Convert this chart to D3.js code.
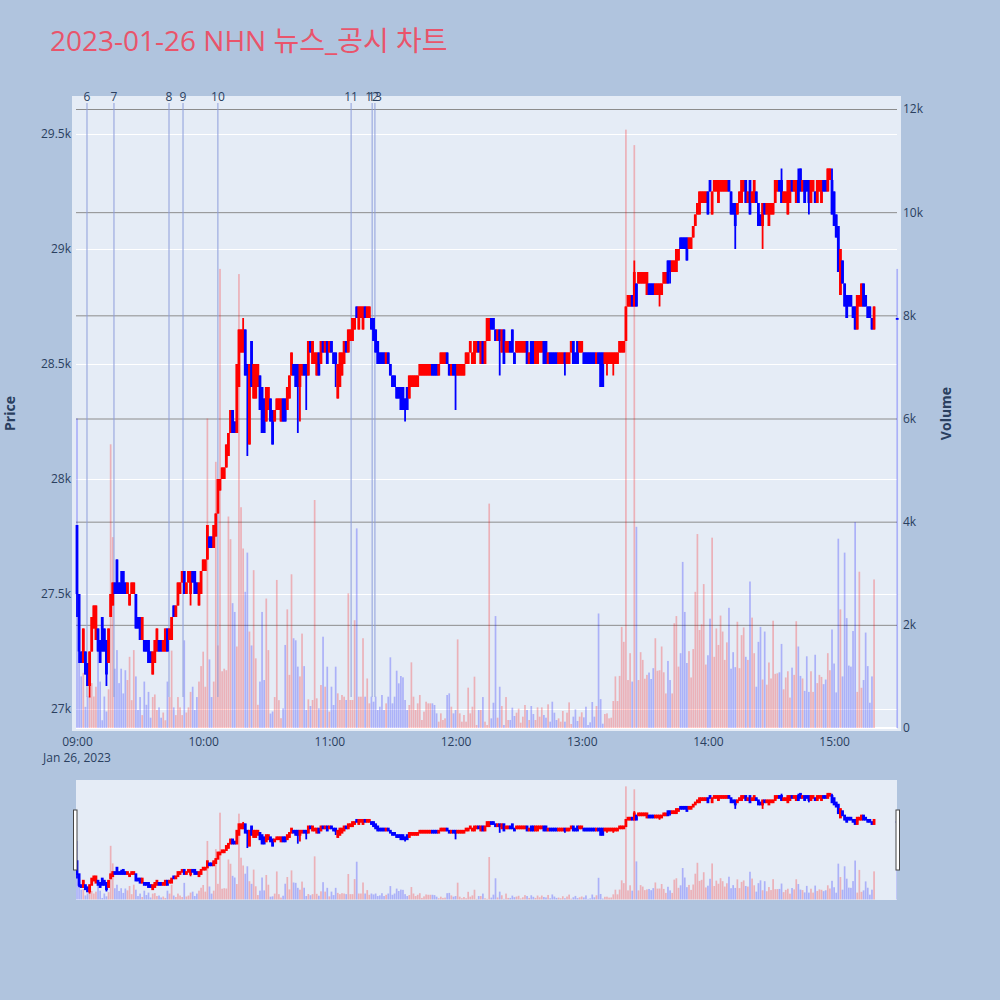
<!DOCTYPE html>
<html><head><meta charset="utf-8">
<script src="https://d3js.org/d3.v7.min.js"></script>
<style>
html,body{margin:0;padding:0;background:#B0C4DE;}
svg{display:block;}
</style></head><body>
<svg id="chart" width="1000" height="1000"></svg>
<script>
// ---------------- data ----------------
const chartTitle = "2023-01-26 NHN 뉴스_공시 차트";
const tradeDate = "2023-01-26";
const sessionStart = "09:00";      // first 1-minute candle, one candle per minute
const auctionTime = "15:30";       // closing auction (last entry of the arrays)

const open = [
27800,27500,27250,27200,27250,27200,27100,27250,27350,27300,
27350,27300,27400,27350,27300,27200,27400,27450,27550,27650,
27550,27550,27600,27550,27500,27450,27500,27500,27500,27400,
27400,27300,27300,27300,27300,27250,27150,27200,27250,27300,
27300,27250,27250,27350,27300,27300,27450,27400,27450,27500,
27550,27600,27500,27550,27500,27600,27600,27550,27450,27500,
27600,27600,27650,27750,27750,27700,27750,27850,27950,28000,
28000,28050,28100,28200,28300,28250,28200,28400,28550,28550,
28650,28500,28150,28600,28350,28350,28400,28450,28400,28350,
28250,28300,28350,28300,28250,28300,28300,28250,28350,28350,
28300,28350,28450,28500,28500,28500,28400,28450,28500,28500,
28450,28600,28500,28500,28450,28550,28500,28600,28550,28600,
28550,28600,28550,28550,28350,28400,28450,28500,28600,28550,
28600,28600,28650,28750,28650,28700,28650,28750,28700,28700,
28700,28700,28650,28600,28550,28550,28550,28500,28550,28500,
28450,28450,28400,28400,28400,28400,28350,28400,28350,28400,
28400,28400,28400,28450,28450,28450,28450,28450,28450,28500,
28500,28500,28450,28500,28500,28500,28550,28500,28450,28500,
28500,28450,28450,28450,28450,28500,28500,28550,28500,28500,
28550,28600,28500,28600,28500,28600,28600,28700,28700,28650,
28600,28650,28550,28650,28550,28550,28600,28650,28550,28550,
28550,28550,28550,28550,28600,28500,28600,28600,28500,28500,
28550,28550,28600,28600,28500,28550,28550,28550,28550,28500,
28500,28500,28550,28500,28500,28550,28600,28550,28600,28550,
28550,28550,28550,28550,28550,28550,28550,28500,28550,28550,
28550,28500,28500,28500,28500,28500,28500,28500,28550,28550,
28550,28600,28750,28750,28800,28750,28850,28850,28850,28850,
28850,28800,28850,28850,28850,28800,28800,28800,28800,28850,
28850,28950,28950,28900,28900,28900,28950,29050,29050,29050,
29050,29000,29000,29050,29100,29150,29150,29200,29200,29200,
29250,29300,29150,29250,29250,29200,29250,29250,29250,29250,
29300,29250,29200,29200,29150,29200,29200,29250,29300,29200,
29300,29200,29200,29250,29200,29150,29100,29200,29150,29100,
29150,29150,29200,29250,29300,29300,29200,29200,29150,29200,
29300,29250,29200,29300,29350,29250,29300,29300,29300,29200,
29250,29250,29200,29250,29200,29300,29300,29250,29300,29300,
29250,29150,29100,28800,28950,28850,28800,28800,28800,28750,
28750,28650,28750,28750,28850,28800,28750,28750,28700,28650,
28700];
const high = [
27800,27500,27250,27350,27250,27200,27250,27400,27450,27450,
27350,27300,27400,27350,27300,27350,27500,27550,27550,27650,
27550,27600,27600,27550,27550,27500,27550,27550,27500,27400,
27400,27400,27300,27300,27300,27250,27250,27300,27350,27300,
27300,27300,27350,27350,27350,27400,27450,27450,27550,27550,
27600,27600,27550,27600,27600,27600,27600,27550,27550,27600,
27650,27650,27800,27750,27750,27800,27850,28000,28000,28050,
28050,28150,28200,28300,28300,28250,28500,28650,28650,28700,
28650,28500,28500,28600,28500,28500,28500,28450,28400,28350,
28400,28400,28350,28300,28300,28350,28350,28350,28350,28350,
28400,28450,28550,28500,28500,28500,28500,28500,28500,28500,
28600,28600,28600,28550,28550,28550,28600,28600,28600,28600,
28600,28600,28550,28550,28500,28550,28550,28600,28600,28650,
28650,28700,28700,28750,28750,28750,28750,28750,28750,28750,
28700,28700,28650,28600,28550,28550,28550,28550,28550,28500,
28450,28450,28400,28400,28400,28400,28350,28400,28450,28450,
28450,28450,28450,28500,28500,28500,28500,28500,28500,28500,
28500,28500,28500,28550,28550,28550,28550,28500,28500,28500,
28500,28500,28500,28500,28500,28550,28550,28600,28550,28600,
28600,28600,28600,28600,28600,28700,28700,28700,28700,28650,
28650,28650,28650,28650,28600,28600,28600,28650,28550,28600,
28600,28600,28600,28600,28600,28550,28600,28600,28600,28600,
28600,28600,28600,28600,28550,28550,28550,28550,28550,28550,
28550,28550,28550,28550,28550,28600,28600,28550,28600,28600,
28600,28550,28550,28550,28550,28550,28550,28550,28550,28550,
28550,28550,28550,28550,28550,28550,28550,28550,28600,28600,
28600,28750,28800,28800,28800,28950,28850,28900,28900,28900,
28900,28900,28850,28850,28850,28850,28850,28850,28850,28900,
28900,28950,28950,28950,28950,29000,29000,29050,29050,29050,
29050,29050,29050,29100,29150,29200,29250,29250,29250,29250,
29250,29300,29250,29300,29300,29300,29300,29300,29300,29300,
29300,29250,29200,29200,29200,29250,29300,29300,29300,29250,
29300,29250,29300,29250,29200,29150,29200,29200,29200,29200,
29200,29200,29300,29300,29300,29350,29250,29250,29300,29300,
29300,29300,29300,29350,29350,29300,29300,29300,29300,29300,
29300,29250,29300,29300,29300,29300,29300,29350,29350,29350,
29250,29150,29100,29000,28950,28850,28800,28800,28800,28750,
28750,28800,28800,28850,28850,28800,28750,28750,28700,28750,
28700];
const low = [
27400,27200,27200,27200,27150,27100,27050,27250,27350,27300,
27250,27200,27250,27250,27100,27200,27400,27450,27500,27500,
27500,27500,27500,27500,27500,27450,27500,27500,27350,27350,
27300,27300,27250,27250,27200,27200,27150,27200,27250,27250,
27250,27250,27250,27250,27300,27300,27400,27400,27450,27500,
27550,27500,27500,27550,27450,27550,27500,27500,27450,27500,
27600,27600,27650,27700,27700,27700,27750,27850,27950,28000,
28000,28050,28100,28200,28200,28200,28200,28400,28550,28550,
28450,28100,28150,28400,28350,28350,28400,28300,28200,28200,
28250,28300,28250,28150,28250,28300,28300,28250,28250,28250,
28300,28350,28450,28450,28400,28200,28250,28450,28450,28300,
28450,28550,28500,28500,28450,28450,28500,28550,28550,28500,
28550,28550,28500,28400,28350,28400,28450,28500,28550,28550,
28600,28600,28650,28700,28650,28700,28650,28700,28700,28700,
28650,28600,28550,28500,28500,28500,28500,28500,28500,28450,
28400,28400,28350,28350,28300,28300,28250,28300,28350,28400,
28400,28400,28400,28450,28450,28450,28450,28450,28450,28450,
28450,28450,28450,28500,28500,28500,28500,28450,28450,28450,
28300,28450,28450,28450,28450,28500,28500,28550,28500,28500,
28550,28550,28500,28500,28500,28600,28600,28650,28650,28600,
28600,28450,28550,28500,28550,28550,28550,28550,28500,28550,
28550,28550,28550,28550,28500,28500,28500,28500,28500,28500,
28550,28550,28500,28500,28500,28500,28500,28500,28500,28500,
28500,28500,28450,28500,28500,28550,28500,28500,28500,28550,
28550,28500,28500,28500,28500,28500,28500,28500,28500,28400,
28400,28500,28450,28500,28500,28450,28500,28500,28550,28550,
28550,28600,28750,28750,28750,28750,28750,28850,28850,28850,
28850,28800,28800,28800,28800,28800,28800,28750,28800,28850,
28850,28850,28850,28900,28900,28900,28950,29000,29000,29000,
28950,29000,29000,29050,29100,29150,29150,29200,29200,29200,
29150,29250,29150,29250,29250,29200,29250,29250,29250,29250,
29250,29150,29150,29000,29150,29200,29200,29250,29200,29200,
29150,29200,29200,29200,29100,29100,29000,29150,29150,29100,
29150,29150,29200,29250,29250,29200,29200,29200,29150,29200,
29250,29250,29200,29200,29250,29250,29200,29250,29150,29200,
29250,29200,29200,29250,29200,29250,29250,29250,29300,29150,
29100,29050,28900,28800,28850,28750,28700,28750,28750,28700,
28650,28650,28750,28750,28750,28750,28700,28700,28650,28650,
28700];
const close = [
27500,27250,27200,27350,27150,27100,27250,27400,27450,27450,
27250,27200,27250,27250,27150,27350,27500,27550,27500,27500,
27500,27500,27500,27500,27550,27500,27550,27550,27350,27350,
27300,27400,27250,27250,27200,27200,27250,27300,27350,27250,
27250,27300,27350,27250,27350,27400,27400,27450,27550,27550,
27600,27500,27550,27600,27600,27550,27500,27500,27550,27600,
27650,27650,27800,27700,27700,27800,27850,28000,28000,28050,
28050,28150,28200,28300,28200,28200,28500,28650,28650,28650,
28450,28450,28500,28400,28500,28500,28500,28300,28200,28200,
28400,28400,28250,28150,28300,28350,28350,28350,28250,28250,
28400,28450,28550,28450,28400,28400,28500,28500,28450,28450,
28600,28550,28600,28550,28550,28450,28600,28550,28600,28500,
28600,28550,28500,28500,28500,28550,28550,28600,28550,28650,
28650,28700,28700,28700,28750,28750,28750,28700,28750,28750,
28650,28600,28550,28500,28500,28500,28500,28550,28500,28450,
28400,28400,28350,28350,28300,28300,28300,28300,28450,28450,
28450,28450,28450,28500,28500,28500,28500,28500,28500,28450,
28450,28450,28500,28550,28550,28550,28500,28450,28500,28450,
28450,28500,28500,28500,28500,28550,28550,28600,28550,28600,
28600,28550,28600,28500,28600,28700,28700,28650,28650,28600,
28650,28600,28650,28500,28600,28600,28550,28550,28500,28600,
28600,28600,28600,28600,28500,28550,28500,28500,28600,28600,
28600,28600,28500,28500,28550,28500,28500,28500,28500,28550,
28550,28550,28500,28550,28550,28600,28500,28500,28500,28600,
28600,28500,28500,28500,28500,28500,28500,28550,28500,28400,
28400,28550,28550,28550,28550,28550,28550,28550,28600,28600,
28600,28750,28800,28800,28750,28900,28750,28900,28900,28900,
28900,28900,28800,28800,28800,28850,28850,28850,28850,28900,
28900,28850,28900,28950,28950,29000,29000,29000,29000,29000,
28950,29050,29050,29100,29150,29200,29250,29250,29250,29250,
29150,29250,29250,29300,29300,29300,29300,29300,29300,29300,
29250,29150,29150,29100,29200,29250,29300,29300,29200,29250,
29150,29250,29300,29200,29100,29100,29200,29150,29200,29200,
29200,29200,29300,29300,29250,29200,29250,29250,29300,29300,
29250,29300,29300,29200,29250,29300,29200,29250,29200,29300,
29300,29200,29300,29300,29300,29250,29250,29350,29350,29150,
29100,29050,28900,29000,28850,28750,28700,28750,28750,28700,
28650,28800,28800,28850,28750,28750,28700,28700,28650,28750,
28700];
const volume = [
6000,1540,1000,1070,410,610,610,870,610,800,
1540,900,150,610,320,750,5500,3700,1150,1510,
870,1150,670,1120,930,1380,540,1510,1000,350,
600,250,900,450,700,200,600,650,350,400,
200,300,150,900,600,1500,400,250,600,400,
250,1700,300,400,700,800,350,600,900,1200,
1480,800,6000,1330,600,900,5160,1600,8900,1100,
1150,1120,4100,3660,2420,2250,1580,8800,4280,3480,
2640,3400,1870,1600,3060,1350,450,900,2250,930,
2510,1510,280,320,600,2870,540,190,380,1610,
2300,1030,2980,1740,1700,1190,1000,1830,1200,350,
556,426,543,4420,575,381,833,1770,801,1189,
317,801,446,1189,672,543,640,607,543,2610,
543,543,2090,3870,607,607,1740,607,960,478,
607,510,607,349,413,640,349,478,607,1370,
478,607,1111,866,1008,982,543,349,446,1273,
607,349,478,640,155,317,510,478,478,478,
446,284,123,284,155,187,640,672,413,284,
349,1718,284,123,252,123,782,284,413,995,
58,349,349,600,123,58,4350,187,490,2170,
200,800,426,58,600,155,155,394,233,297,
375,103,220,446,349,155,426,271,155,400,
220,400,252,200,459,123,510,297,155,187,
123,330,123,297,497,78,220,362,136,220,
304,207,413,58,110,504,220,426,2220,560,
84,271,284,187,200,523,1000,523,1010,1960,
1670,11600,930,1450,900,11300,3900,930,1470,1320,
955,1030,1075,950,1160,1740,1110,1120,1580,1080,
670,1300,930,670,2030,2170,1190,1450,3220,2250,
1260,1490,980,1530,2640,3760,1900,2010,2790,1230,
1410,2120,3690,1380,1930,1610,2180,1870,1320,1660,
2330,1150,1470,1180,2060,1160,1800,1950,1380,1320,
2840,2140,1450,800,1670,1960,940,1870,840,1270,
960,2080,1050,1060,1080,1630,750,980,1100,590,
1170,1030,2070,1580,1010,960,720,1390,700,1100,
700,1420,870,1030,990,850,940,1450,1120,1910,
1250,690,3670,2300,1000,3400,2130,1210,1190,1880,
3990,700,3030,780,930,1850,1200,490,1000,2880,
8900];

const newsTimes  = ["09:04:45","09:17:35","09:43:45","09:50:25","10:07:00","11:10:20","11:20:20","11:21:40"];
const newsLabels = ["6","7","8","9","10","11","12","13"];

const priceTicks = [27000,27500,28000,28500,29000,29500];
const priceTickLabels = ["27k","27.5k","28k","28.5k","29k","29.5k"];
const volumeTicks = [0,2000,4000,6000,8000,10000,12000];
const volumeTickLabels = ["0","2k","4k","6k","8k","10k","12k"];
const timeTicks = ["09:00","10:00","11:00","12:00","13:00","14:00","15:00"];
const dateLabel = "Jan 26, 2023";

// ---------------- layout ----------------
const FONT = "'Open Sans','Noto Sans CJK KR',sans-serif";
const TXT = "#2a3f5f";
const PL = 72, PR = 901, PT = 96, PB = 731;   // main plot box
const GL = 76, GR = 897;                      // grid extent
const SL = 76, SR = 897, ST = 780, SB = 900;  // range slider box
const UP = "#ff0000", DOWN = "#0000ff";

const parseT = d3.timeParse("%Y-%m-%d %H:%M:%S");
const tAt = s => parseT(tradeDate + " " + (s.length === 5 ? s + ":00" : s));
const t0 = tAt(sessionStart), tEnd = tAt(auctionTime);
const n = open.length;
const times = open.map((_, i) => i < n - 1 ? d3.timeMinute.offset(t0, i) : tEnd);
const data = open.map((o, i) => ({t: times[i], o, h: high[i], l: low[i], c: close[i], v: volume[i], up: close[i] > o}));

const x = d3.scaleTime().domain([t0, tEnd]).range([77, 897.2]);
const yP = d3.scaleLinear().domain([27000, 29500]).range([709, 134]);
const yV = d3.scaleLinear().domain([0, 12000]).range([728, 109]);
const yPs = d3.scaleLinear().domain([yP.invert(PB), yP.invert(PT)]).range([SB, ST]);
const yVs = d3.scaleLinear().domain([yV.invert(PB), yV.invert(PT)]).range([SB, ST]);

const svg = d3.select("#chart");
svg.append("rect").attr("width", 1000).attr("height", 1000).attr("fill", "#B0C4DE");

svg.append("text").attr("x", 50).attr("y", 51)
  .attr("font-family", FONT).attr("font-size", 28).attr("fill", "#E9546B")
  .text(chartTitle);

svg.append("rect").attr("x", PL).attr("y", PT).attr("width", PR - PL).attr("height", PB - PT).attr("fill", "#E5ECF6");

// price grid (white)
svg.append("g").attr("transform", `translate(${GL},0)`)
  .call(d3.axisLeft(yP).tickValues(priceTicks).tickSize(-(GR - GL)).tickFormat(""))
  .call(g => g.select(".domain").remove())
  .call(g => g.selectAll("line").attr("stroke", "#ffffff").attr("stroke-width", 1));

// volume grid (gray)
svg.append("g").attr("transform", `translate(${GL},0)`)
  .call(d3.axisLeft(yV).tickValues(volumeTicks.slice(1)).tickSize(-(GR - GL)).tickFormat(""))
  .call(g => g.select(".domain").remove())
  .call(g => g.selectAll("line").attr("stroke", "#8c8c8c").attr("stroke-width", 1));
// zero line
svg.append("line").attr("x1", GL).attr("x2", GR).attr("y1", yV(0)).attr("y2", yV(0))
  .attr("stroke", "#ffffff").attr("stroke-width", 2);

function drawVolume(g, ys) {
  g.selectAll("rect.vb").data(data).join("rect").attr("class", "vb")
    .attr("x", d => x(d.t) - 0.85).attr("width", 1.7)
    .attr("y", d => ys(d.v)).attr("height", d => ys(0) - ys(d.v))
    .attr("fill", d => d.up ? "rgba(255,0,0,0.25)" : "rgba(0,0,255,0.25)");
}
function drawCandles(g, ys, extra) {
  const c = g.selectAll("g.cd").data(data).join("g").attr("class", "cd");
  c.append("line")
    .attr("x1", d => x(d.t)).attr("x2", d => x(d.t))
    .attr("y1", d => ys(d.h)).attr("y2", d => ys(d.l))
    .attr("stroke", d => d.up ? UP : DOWN).attr("stroke-width", 1.8);
  c.append("rect")
    .attr("x", d => x(d.t) - 1.4).attr("width", 2.8)
    .attr("y", d => Math.min(ys(d.o), ys(d.c)) - extra / 2)
    .attr("height", d => Math.max(Math.abs(ys(d.o) - ys(d.c)) + extra, 1.8))
    .attr("fill", d => d.up ? UP : DOWN);
}

// main plot contents
const main = svg.append("g");
drawVolume(main.append("g"), yV);

// news lines
const news = newsTimes.map((t, i) => ({t: tAt(t), label: newsLabels[i]}));
main.append("g").selectAll("line").data(news).join("line")
  .attr("x1", d => x(d.t)).attr("x2", d => x(d.t)).attr("y1", 103).attr("y2", 697)
  .attr("stroke", "#8e9edb").attr("stroke-width", 1);

drawCandles(main.append("g"), yP, 0);

main.append("g").selectAll("text").data(news).join("text")
  .attr("x", d => x(d.t)).attr("y", 101).attr("text-anchor", "middle")
  .attr("font-family", FONT).attr("font-size", 12).attr("fill", TXT)
  .text(d => d.label);

// axes
const styleAxis = g => {
  g.select(".domain").remove();
  g.attr("font-family", FONT).attr("font-size", 12);
  g.selectAll("text").attr("fill", TXT);
};
svg.append("g").attr("transform", `translate(${PL},0)`)
  .call(d3.axisLeft(yP).tickValues(priceTicks).tickFormat((d, i) => priceTickLabels[i]).tickSize(0).tickPadding(1))
  .call(styleAxis);
svg.append("g").attr("transform", `translate(${PR},0)`)
  .call(d3.axisRight(yV).tickValues(volumeTicks).tickFormat((d, i) => volumeTickLabels[i]).tickSize(0).tickPadding(2))
  .call(styleAxis);
svg.append("g").attr("transform", `translate(0,${PB})`)
  .call(d3.axisBottom(x).tickValues(timeTicks.map(tAt)).tickFormat((d, i) => timeTicks[i]).tickSize(0).tickPadding(6))
  .call(styleAxis);
svg.append("text").attr("x", x(t0)).attr("y", 762).attr("text-anchor", "middle")
  .attr("font-family", FONT).attr("font-size", 12).attr("fill", TXT).text(dateLabel);

svg.append("text").attr("transform", `translate(15,${(PT + PB) / 2}) rotate(-90)`)
  .attr("text-anchor", "middle").attr("font-family", FONT).attr("font-size", 14)
  .attr("font-weight", "bold").attr("fill", TXT).text("Price");
svg.append("text").attr("transform", `translate(951,${(PT + PB) / 2}) rotate(-90)`)
  .attr("text-anchor", "middle").attr("font-family", FONT).attr("font-size", 14)
  .attr("font-weight", "bold").attr("fill", TXT).text("Volume");

// range slider
svg.append("defs").append("clipPath").attr("id", "sclip")
  .append("rect").attr("x", SL).attr("y", ST).attr("width", SR - SL).attr("height", SB - ST);
svg.append("rect").attr("x", SL).attr("y", ST).attr("width", SR - SL).attr("height", SB - ST).attr("fill", "#E5ECF6");
const sg = svg.append("g").attr("clip-path", "url(#sclip)");
drawVolume(sg.append("g"), yVs);
drawCandles(sg.append("g"), yPs, 1.6);
[SL - 2.5, SR - 1].forEach(hx => {
  svg.append("rect").attr("x", hx).attr("y", 810).attr("width", 3.5).attr("height", 60)
    .attr("fill", "#ffffff").attr("stroke", "#444").attr("stroke-width", 1);
});
</script>
</body></html>
